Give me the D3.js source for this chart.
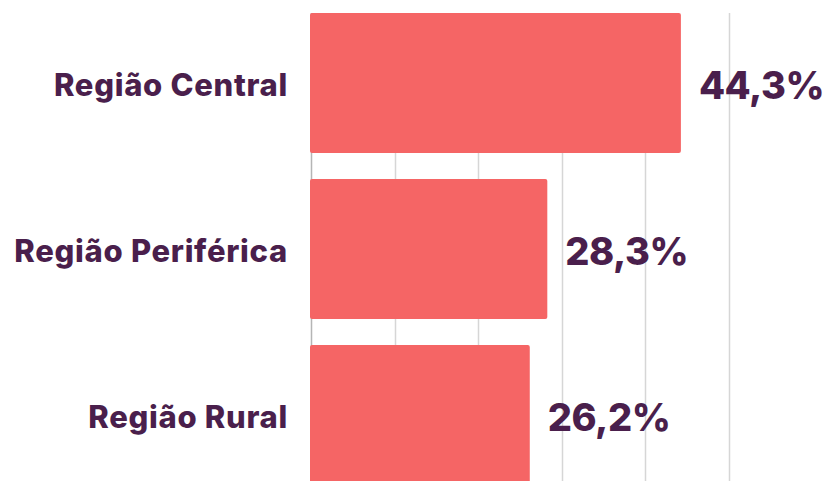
<!DOCTYPE html>
<html><head><meta charset="utf-8">
<script src="https://cdn.jsdelivr.net/npm/d3@7"></script>
<style>body{margin:0;background:#fff}svg{display:block}</style>
</head><body>
<svg id="c" width="830" height="481"></svg>
<script>
const categories = ["Região Central", "Região Periférica", "Região Rural"];
const values = [44.3, 28.3, 26.2];
const valueLabels = ["44,3%", "28,3%", "26,2%"];
const gridTicks = [0, 10, 20, 30, 40, 50];

const svg = d3.select("#c");
const x = d3.scaleLinear().domain([0, 50]).range([311, 728.5]);
const y = d3.scaleBand().domain(categories).range([13, 485]).paddingInner(26/166).paddingOuter(0);

svg.append("g").selectAll("line").data(gridTicks).join("line")
  .attr("x1", d => Math.round(x(d)) + 0.5).attr("x2", d => Math.round(x(d)) + 0.5)
  .attr("y1", 13).attr("y2", 481)
  .attr("stroke", d => d === 0 ? "#b5b5b5" : "#d6d6d6").attr("stroke-width", 1.5);

svg.append("g").selectAll("rect").data(values).join("rect")
  .attr("x", x(0) - 1).attr("y", (d, i) => y(categories[i]))
  .attr("width", d => x(d) - x(0) + 1).attr("height", y.bandwidth())
  .attr("rx", 2).attr("fill", "#F56565");

const font = "Inter, 'Noto Sans', sans-serif";
svg.append("g").selectAll("text").data(categories).join("text")
  .attr("x", 288).attr("y", d => y(d) + y.bandwidth() / 2 + 2)
  .attr("dy", "0.35em").attr("text-anchor", "end")
  .attr("font-family", font).attr("font-weight", 800).attr("font-size", 31)
  .attr("letter-spacing", "0.7px")
  .attr("fill", "#4A1F4C").text(d => d);

svg.append("g").selectAll("text").data(values).join("text")
  .attr("x", d => x(d) + 18).attr("y", (d, i) => y(categories[i]) + y.bandwidth() / 2 + 3)
  .attr("dy", "0.35em")
  .attr("font-family", font).attr("font-weight", 800).attr("font-size", 38)
  .attr("letter-spacing", "-0.5px")
  .attr("fill", "#4A1F4C").text((d, i) => valueLabels[i]);
</script>
</body></html>
